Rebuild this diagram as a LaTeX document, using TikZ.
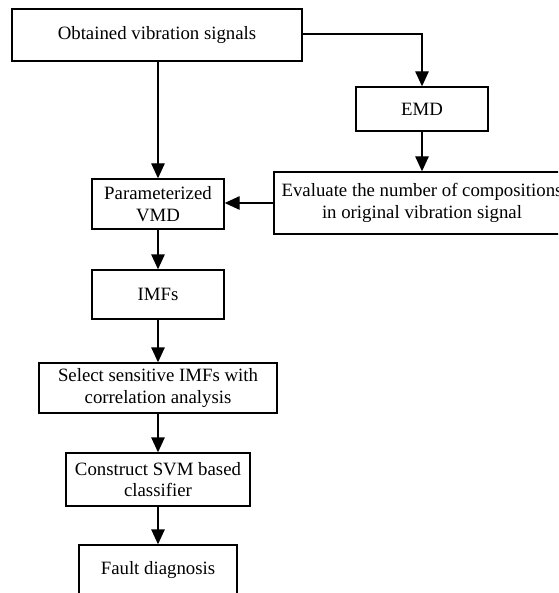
\documentclass[tikz,border=0pt]{standalone}
\usepackage{fontspec}
\setmainfont{Liberation Serif}
\usetikzlibrary{arrows.meta}
\begin{document}
\begin{tikzpicture}[x=1pt,y=-1pt,
  box/.style={draw, line width=1.4pt, align=center, inner sep=0pt,
    font=\fontsize{18.8}{21.8}\selectfont},
  arr/.style={line width=1.4pt, -{Triangle[length=15pt,width=13.5pt]}}]
\useasboundingbox (0,0) rectangle (558,593);
\clip (0,0) rectangle (558,593);
\fill[white] (0,0) rectangle (558,593);
\node[box, minimum width=290pt, minimum height=52pt] (b1) at (157,35) {Obtained vibration signals};
\node[box, minimum width=132pt, minimum height=44pt] (emd) at (422,109) {EMD};
\node[box, minimum width=296pt, minimum height=62pt] (ev) at (422,203) {Evaluate the number of compositions\\in original vibration signal};
\node[box, minimum width=132pt, minimum height=50pt] (vmd) at (158,204) {Parameterized\\VMD};
\node[box, minimum width=132pt, minimum height=49pt] (imf) at (158,294.5) {IMFs};
\node[box, minimum width=238pt, minimum height=50pt] (sel) at (158,388) {Select sensitive IMFs with\\correlation analysis};
\node[box, minimum width=184pt, minimum height=53pt] (svm) at (158,479.5) {Construct SVM based\\classifier};
\node[box, minimum width=158pt, minimum height=50pt] (fd) at (158,570) {Fault diagnosis};
\draw[arr] (vmd.north |- b1.south) -- (vmd.north);
\draw[arr] (b1.east |- 0,34) -| (emd.north);
\draw[arr] (emd.south) -- (ev.north);
\draw[arr] (ev.west) -- (ev.west -| vmd.east);
\draw[arr] (vmd.south) -- (imf.north);
\draw[arr] (imf.south) -- (sel.north);
\draw[arr] (sel.south) -- (svm.north);
\draw[arr] (svm.south) -- (fd.north);
\end{tikzpicture}
\end{document}
